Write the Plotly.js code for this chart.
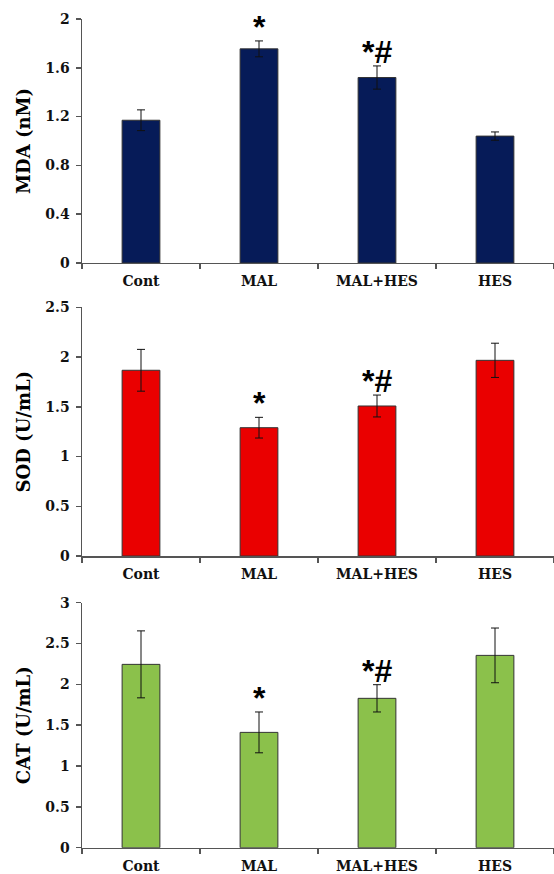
<!DOCTYPE html>
<html>
<head>
<meta charset="utf-8">
<script src="https://cdn.plot.ly/plotly-3.0.1.min.js"></script>
<style>html,body{margin:0;padding:0;background:#fff;}#chart{width:554px;height:874px;}</style>
</head>
<body>
<div id="chart"></div>
<script>
const categories = ["Cont", "MAL", "MAL+HES", "HES"];
const mdaValues = [1.17, 1.755, 1.52, 1.04];
const mdaErrors = [0.085, 0.065, 0.095, 0.034];
const sodValues = [1.867, 1.29, 1.508, 1.967];
const sodErrors = [0.21, 0.104, 0.11, 0.172];
const catValues = [2.245, 1.412, 1.829, 2.355];
const catErrors = [0.41, 0.25, 0.167, 0.335];
const mdaMarks = ["", "*", "*#", ""];
const sodMarks = ["", "*", "*#", ""];
const catMarks = ["", "*", "*#", ""];

const panels = [
  {vals: mdaValues, errs: mdaErrors, marks: mdaMarks, color: "#061b58", title: "MDA (nM)", range: [0, 2], dtick: 0.4, domain: [0.6991, 0.9783]},
  {vals: sodValues, errs: sodErrors, marks: sodMarks, color: "#ea0000", title: "SOD (U/mL)", range: [0, 2.5], dtick: 0.5, domain: [0.3638, 0.6484]},
  {vals: catValues, errs: catErrors, marks: catMarks, color: "#8bc14b", title: "CAT (U/mL)", range: [0, 3], dtick: 0.5, domain: [0.0301, 0.3104]}
];

const tickFont = {family: "DejaVu Serif", size: 14, color: "#111", weight: "bold"};
const titleFont = {family: "DejaVu Serif", size: 18, color: "#000", weight: "bold"};

const traces = [];
const layout = {
  width: 554, height: 874,
  margin: {l: 82, r: 0, t: 0, b: 0},
  paper_bgcolor: "#fff", plot_bgcolor: "rgba(0,0,0,0)",
  showlegend: false,
  bargap: 0.68,
  annotations: []
};

panels.forEach((p, i) => {
  const n = i === 0 ? "" : String(i + 1);
  traces.push({
    type: "bar",
    x: categories, y: p.vals,
    xaxis: "x" + n, yaxis: "y" + n,
    marker: {color: p.color, line: {color: "#333", width: 1}},
    error_y: {type: "data", array: p.errs, visible: true, color: "#111", thickness: 1, width: 4},
    hoverinfo: "skip"
  });
  layout["xaxis" + n] = {
    domain: [0, 1], anchor: "y" + n,
    type: "category", range: [-0.5, 3.5],
    showline: true, linecolor: "#555", linewidth: 1.5,
    ticks: "outside", tickson: "boundaries", ticklen: 5, tickcolor: "#555", tickwidth: 1.5,
    ticklabelstandoff: 5,
    showgrid: false, zeroline: false,
    tickfont: tickFont, fixedrange: true
  };
  layout["yaxis" + n] = {
    domain: p.domain, anchor: "x" + n,
    range: p.range, dtick: p.dtick, tick0: 0,
    showline: true, linecolor: "#555", linewidth: 1.5,
    ticks: "outside", ticklen: 5, tickcolor: "#555", tickwidth: 1.5,
    ticklabelstandoff: 3,
    showgrid: false, zeroline: false,
    tickfont: tickFont,
    title: {text: p.title, font: titleFont, standoff: 10},
    automargin: false, fixedrange: true
  };
  p.marks.forEach((m, j) => {
    if (!m) return;
    layout.annotations.push({
      xref: "x" + n, yref: "y" + n,
      x: categories[j], y: p.vals[j] + p.errs[j],
      text: "<b>" + m + "</b>", showarrow: false,
      yanchor: "bottom", yshift: -6,
      font: {family: "Liberation Sans, Arial", size: 32, color: "#000"}
    });
  });
});

Plotly.newPlot("chart", traces, layout, {staticPlot: true});
</script>
</body>
</html>
